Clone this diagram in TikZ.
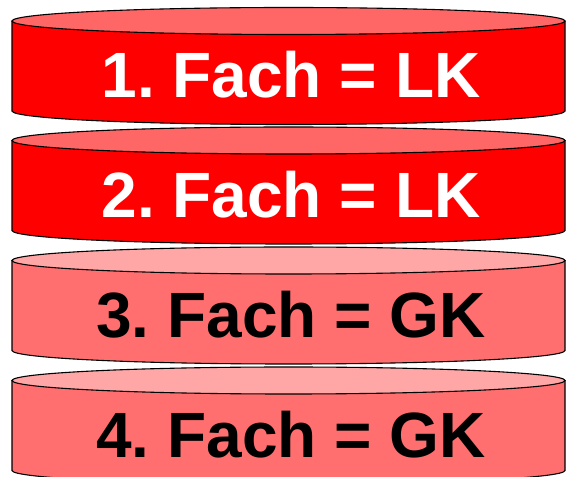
\documentclass[tikz,border=0pt]{standalone}
\usepackage{fontspec}
\setmainfont{Liberation Sans}
\frenchspacing
\begin{document}
\begin{tikzpicture}[x=1pt,y=1pt,
  outline/.style={draw=black,line width=1.1pt},
  lbl/.style={font=\fontsize{64}{64}\selectfont\bfseries\frenchspacing,anchor=base,inner sep=0pt}]
\definecolor{darkbody}{HTML}{FF0000}
\definecolor{darktop}{HTML}{FF6666}
\definecolor{lightbody}{HTML}{FF6F6F}
\definecolor{lighttop}{HTML}{FFA6A6}
\clip (0,0) rectangle (566,477);
\useasboundingbox (0,0) rectangle (566,477);
\foreach \t/\body/\top/\txt/\tc/\nm in {
  456/darkbody/darktop/{1. Fach = LK}/white/a,
  336.5/darkbody/darktop/{2. Fach = LK}/white/b,
  216.5/lightbody/lighttop/{3. Fach = GK}/black/c,
  96.5/lightbody/lighttop/{4. Fach = GK}/black/d}{
  \fill[\body] (12,\t) -- (12,\t-90) arc[start angle=180,end angle=360,x radius=276.5,y radius=13.5] -- (565,\t) -- cycle;
  \draw[outline] (12,\t) -- (12,\t-90) arc[start angle=180,end angle=360,x radius=276.5,y radius=13.5] -- (565,\t);
  \filldraw[outline,fill=\top] (288.5,\t) ellipse[x radius=276.5,y radius=13.5];
  \node[lbl,text=\tc] (\nm) at (291,\t-77) {\txt};
}
\end{tikzpicture}
\end{document}
